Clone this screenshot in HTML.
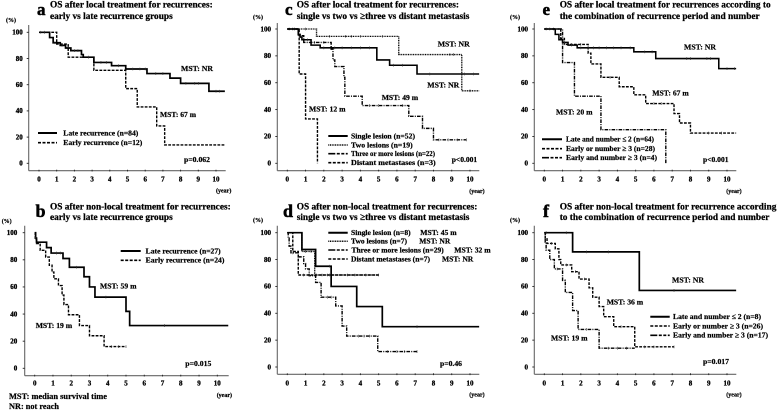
<!DOCTYPE html>
<html lang="en">
<head>
<meta charset="utf-8">
<title>Overall survival after recurrence treatment</title>
<style>
html,body{margin:0;padding:0;background:#fff;width:777px;height:411px;overflow:hidden}
svg{display:block;filter:blur(0.3px)}
text{font-family:"Liberation Serif",serif;font-weight:700;fill:#000;stroke:#000;stroke-width:.22px}
.ttl{font-size:9.6px;stroke-width:.25px}
.let{font-size:17px;stroke-width:.5px}
.leg{font-size:7.6px}
.mst{font-size:7.8px}
.pv{font-size:7.6px}
.unit{font-size:6px}
.tick{font-size:7px;stroke-width:.3px}
.foot{font-size:8px}
</style>
</head>
<body>
<svg id="figure" width="777" height="411" viewBox="0 0 777 411" xmlns="http://www.w3.org/2000/svg">
<g>
<text class="let" x="37" y="15">a</text>
<text class="let" x="35.5" y="217" style="font-size:18px">b</text>
<text class="let" x="285" y="15">c</text>
<text class="let" x="283" y="217" style="font-size:18px">d</text>
<text class="let" x="542.5" y="15">e</text>
<text class="let" x="543" y="217" style="font-size:18px">f</text>
</g>
<g>
<text class="ttl" x="50" y="7.7" textLength="162.7" lengthAdjust="spacingAndGlyphs">OS after local treatment for recurrences:</text>
<text class="ttl" x="50" y="19" textLength="122.7" lengthAdjust="spacingAndGlyphs">early vs late recurrence groups</text>
<text class="ttl" x="50" y="209.3" textLength="180.7" lengthAdjust="spacingAndGlyphs">OS after non-local treatment for recurrences:</text>
<text class="ttl" x="50" y="220" textLength="122.7" lengthAdjust="spacingAndGlyphs">early vs late recurrence groups</text>
<text class="ttl" x="296.7" y="7.7" textLength="162.3" lengthAdjust="spacingAndGlyphs">OS after local treatment for recurrences:</text>
<text class="ttl" x="296.7" y="19" textLength="172.7" lengthAdjust="spacingAndGlyphs">single vs two vs ≥three vs distant metastasis</text>
<text class="ttl" x="296.7" y="209.3" textLength="180.7" lengthAdjust="spacingAndGlyphs">OS after non-local treatment for recurrences:</text>
<text class="ttl" x="296.7" y="220" textLength="172.7" lengthAdjust="spacingAndGlyphs">single vs two vs ≥three vs distant metastasis</text>
<text class="ttl" x="559.7" y="7.7" textLength="211" lengthAdjust="spacingAndGlyphs">OS after local treatment for recurrences according to</text>
<text class="ttl" x="559.7" y="19" textLength="200" lengthAdjust="spacingAndGlyphs">the combination of recurrence period and number</text>
<text class="ttl" x="559.7" y="209.3" textLength="216.7" lengthAdjust="spacingAndGlyphs">OS after non-local treatment for recurrence according</text>
<text class="ttl" x="559.7" y="220" textLength="209.7" lengthAdjust="spacingAndGlyphs">to the combination of recurrence period and number</text>
</g>
<g fill="none" stroke="#000">
<line x1="38" x2="57" y1="133" y2="133" stroke-width="2"/>
<line x1="38" x2="57" y1="142.7" y2="142.7" stroke-width="1.6" stroke-dasharray="3 1.5"/>
<line x1="120.7" x2="140.7" y1="251" y2="251" stroke-width="2"/>
<line x1="120.7" x2="140.7" y1="260.3" y2="260.3" stroke-width="1.6" stroke-dasharray="3 1.5"/>
<line x1="328.3" x2="347.7" y1="136" y2="136" stroke-width="2"/>
<line x1="328.3" x2="347.7" y1="145" y2="145" stroke-width="1.5" stroke-dasharray="1 .7"/>
<line x1="328.3" x2="347.7" y1="153.7" y2="153.7" stroke-width="1.6" stroke-dasharray="7 1.5 3 1.5 3 1.5"/>
<line x1="328.3" x2="347.7" y1="162.7" y2="162.7" stroke-width="1.6" stroke-dasharray="3 1.5"/>
<line x1="328.3" x2="347.7" y1="232.7" y2="232.7" stroke-width="2"/>
<line x1="328.3" x2="347.7" y1="241.3" y2="241.3" stroke-width="1.5" stroke-dasharray="1 .7"/>
<line x1="328.3" x2="347.7" y1="250" y2="250" stroke-width="1.6" stroke-dasharray="7 1.5 3 1.5 3 1.5"/>
<line x1="328.3" x2="347.7" y1="259" y2="259" stroke-width="1.6" stroke-dasharray="3 1.5"/>
<line x1="542" x2="562" y1="139.3" y2="139.3" stroke-width="2"/>
<line x1="542" x2="562" y1="148.7" y2="148.7" stroke-width="1.6" stroke-dasharray="3 1.5"/>
<line x1="542" x2="562" y1="157.7" y2="157.7" stroke-width="1.6" stroke-dasharray="7 1.5 3 1.5 3 1.5"/>
<line x1="650.3" x2="669.7" y1="316.7" y2="316.7" stroke-width="2"/>
<line x1="650.3" x2="669.7" y1="326" y2="326" stroke-width="1.6" stroke-dasharray="3 1.5"/>
<line x1="650.3" x2="669.7" y1="335.3" y2="335.3" stroke-width="1.6" stroke-dasharray="7 1.5 3 1.5 3 1.5"/>
</g>
<g>
<text class="leg" x="63.3" y="135.3" textLength="75" lengthAdjust="spacingAndGlyphs">Late recurrence (n=84)</text>
<text class="leg" x="63.3" y="144.9" textLength="79" lengthAdjust="spacingAndGlyphs">Early recurrence (n=12)</text>
<text class="leg" x="145.7" y="253.3" textLength="75" lengthAdjust="spacingAndGlyphs">Late recurrence (n=27)</text>
<text class="leg" x="145.7" y="262.6" textLength="78.7" lengthAdjust="spacingAndGlyphs">Early recurrence (n=24)</text>
<text class="leg" x="351" y="138.3" textLength="64" lengthAdjust="spacingAndGlyphs">Single lesion (n=52)</text>
<text class="leg" x="351" y="147.3" textLength="61.7" lengthAdjust="spacingAndGlyphs">Two lesions (n=19)</text>
<text class="leg" x="351" y="156" textLength="84" lengthAdjust="spacingAndGlyphs">Three or more lesions (n=22)</text>
<text class="leg" x="351" y="165" textLength="84.7" lengthAdjust="spacingAndGlyphs">Distant metastases (n=3)</text>
<text class="leg" x="351" y="235" textLength="59.7" lengthAdjust="spacingAndGlyphs">Single lesion (n=8)</text>
<text class="leg" x="420.3" y="235" textLength="36.3" lengthAdjust="spacingAndGlyphs">MST: 45 m</text>
<text class="leg" x="351" y="243.6" textLength="56" lengthAdjust="spacingAndGlyphs">Two lesions (n=7)</text>
<text class="leg" x="419.3" y="243.6" textLength="31" lengthAdjust="spacingAndGlyphs">MST: NR</text>
<text class="leg" x="351.5" y="252.3" textLength="92.2" lengthAdjust="spacingAndGlyphs">Three or more lesions (n=29)</text>
<text class="leg" x="454.3" y="252.3" textLength="36.3" lengthAdjust="spacingAndGlyphs">MST: 32 m</text>
<text class="leg" x="351" y="261.3" textLength="79" lengthAdjust="spacingAndGlyphs">Distant metastases (n=7)</text>
<text class="leg" x="442" y="261.3" textLength="31.3" lengthAdjust="spacingAndGlyphs">MST: NR</text>
<text class="leg" x="566" y="141.6" textLength="88" lengthAdjust="spacingAndGlyphs">Late and number ≤ 2 (n=64)</text>
<text class="leg" x="566" y="151" textLength="89" lengthAdjust="spacingAndGlyphs">Early or number ≥ 3 (n=28)</text>
<text class="leg" x="566" y="160" textLength="91" lengthAdjust="spacingAndGlyphs">Early and number ≥ 3 (n=4)</text>
<text class="leg" x="673" y="319" textLength="88" lengthAdjust="spacingAndGlyphs">Late and number ≤ 2 (n=8)</text>
<text class="leg" x="673" y="328.3" textLength="90" lengthAdjust="spacingAndGlyphs">Early or number ≥ 3 (n=26)</text>
<text class="leg" x="673" y="337.6" textLength="95" lengthAdjust="spacingAndGlyphs">Early and number ≥ 3 (n=17)</text>
</g>
<g>
<text class="mst" x="181" y="71" textLength="32" lengthAdjust="spacingAndGlyphs">MST: NR</text>
<text class="mst" x="160" y="117" textLength="36" lengthAdjust="spacingAndGlyphs">MST: 67 m</text>
<text class="mst" x="100" y="288.7" textLength="36.5" lengthAdjust="spacingAndGlyphs">MST: 59 m</text>
<text class="mst" x="35.7" y="328" textLength="36.5" lengthAdjust="spacingAndGlyphs">MST: 19 m</text>
<text class="mst" x="437.7" y="46.3" textLength="32" lengthAdjust="spacingAndGlyphs">MST: NR</text>
<text class="mst" x="427.3" y="87.3" textLength="32" lengthAdjust="spacingAndGlyphs">MST: NR</text>
<text class="mst" x="381.7" y="100" textLength="36.5" lengthAdjust="spacingAndGlyphs">MST: 49 m</text>
<text class="mst" x="309" y="111.3" textLength="36.5" lengthAdjust="spacingAndGlyphs">MST: 12 m</text>
<text class="mst" x="684" y="49.7" textLength="32" lengthAdjust="spacingAndGlyphs">MST: NR</text>
<text class="mst" x="652.3" y="95.7" textLength="36.5" lengthAdjust="spacingAndGlyphs">MST: 67 m</text>
<text class="mst" x="556" y="114.7" textLength="36.5" lengthAdjust="spacingAndGlyphs">MST: 20 m</text>
<text class="mst" x="672" y="282.3" textLength="32" lengthAdjust="spacingAndGlyphs">MST: NR</text>
<text class="mst" x="606.7" y="304.3" textLength="36.5" lengthAdjust="spacingAndGlyphs">MST: 36 m</text>
<text class="mst" x="551" y="340.7" textLength="36.5" lengthAdjust="spacingAndGlyphs">MST: 19 m</text>
</g>
<g>
<text class="pv" x="184" y="162" textLength="26" lengthAdjust="spacingAndGlyphs">p=0.062</text>
<text class="pv" x="185.3" y="366" textLength="26" lengthAdjust="spacingAndGlyphs">p=0.015</text>
<text class="pv" x="451.7" y="162" textLength="25.5" lengthAdjust="spacingAndGlyphs">p&lt;0.001</text>
<text class="pv" x="440" y="366" textLength="22" lengthAdjust="spacingAndGlyphs">p=0.46</text>
<text class="pv" x="703" y="162" textLength="25.5" lengthAdjust="spacingAndGlyphs">p&lt;0.001</text>
<text class="pv" x="703" y="364" textLength="26" lengthAdjust="spacingAndGlyphs">p=0.017</text>
</g>
<g>
<text class="foot" x="9" y="399" textLength="98" lengthAdjust="spacingAndGlyphs">MST: median survival time</text>
<text class="foot" x="9" y="409" textLength="50" lengthAdjust="spacingAndGlyphs">NR: not reach</text>
</g>
<g id="charts"></g>
</svg>
<script>
const xTickLabels = [0,1,2,3,4,5,6,7,8,9,10];
const yTickLabels = [0,20,40,60,80,100];

const aLateT = [0,0.6,0.8,1.2,1.5,1.8,2.4,2.5,3.1,4.1,4.9,6.1,7.4,8,9.6,10.5];
const aLateS = [100,96,92,90,88,86,83,81,77,74.5,72,68.5,65,61,55,55];
const aLateC = [0.1,0.3,0.9,1.3,2,2.2,2.8,3.5,3.8,4.5,5.3,5.7,6,6.6,7,8.3,8.8,9,10,10.2];
const aEarlyT = [0,1,1.65,3.1,4.9,5.55,6.65,7.1,10.5];
const aEarlyS = [100,91,81,71,57,43,28.5,14,14];

const bLateT = [0,0.05,0.1,0.65,0.9,1.55,1.9,2.7,3,3.3,5,5.2,10.6];
const bLateS = [100,96,93,89,85,81,74.5,67.5,60,52.5,42,31.5,31.5];
const bLateC = [0.05,1.2,1.4,2.3,3.9,7.1];
const bEarlyT = [0,0.03,0.1,0.3,0.6,0.8,0.95,1.05,1.3,1.5,1.6,1.85,2.45,3,3.8,5];
const bEarlyS = [100,96,92,87,82,76,71,66,61,54,47,39.5,31.5,24,16,16];
const bEarlyC = [0.05,4.2,4.6,5];

const cSingleT = [0,0.6,0.7,0.8,1.3,1.8,4.9,5.6,7.1,10.5];
const cSingleS = [100,96,94,92,88,86,77,73,66.5,66.5];
const cSingleC = [1.1,2,2.6,3,3.5,4,4.5,5.8,6.3,7.8,9.7,10.2];
const cTwoT = [0,1.6,6.1,9.55,10.5];
const cTwoS = [100,94.5,81,54,54];
const cTwoC = [0.4,1,2.3,3.2,3.5,4,5.2,8.9,9.1,10];
const cThreeT = [0,0.6,0.9,2.4,2.5,2.6,3.1,3.15,4.1,6.65,7.4,8,9.8];
const cThreeS = [100,95,90,85,77,72,64,50,43,35,26,17.5,17.5];
const cThreeC = [0.1,0.3,1.5,2,4.5,5,6.3,8.3,8.8,9.3,9.8];
const cDistantT = [0,0.65,1,1.65];
const cDistantS = [100,66.5,33,0];

const dSingleT = [0,0.8,1.55,2.4,3.8,5.2,10.5];
const dSingleS = [100,87.5,75,60,45,30,30];
const dSingleC = [2.3,7.1];
const dTwoT = [0,0.8,1.5,5];
const dTwoS = [100,86,68.5,68.5];
const dTwoC = [1,1.3,1.9,2.3,3.3,3.7];
const dThreeT = [0,0.05,0.1,0.2,0.6,0.9,1,1.2,1.55,1.85,2.65,3,3.25,4.95,7.1];
const dThreeS = [100,96,90,85,82,77,73,68,63,52,45.5,30.5,23,11.5,11.5];
const dThreeC = [0.3,2.2,2.4,3.9,4.2,4.5,5.5,6,6.4,7.1];
const dDistantT = [0,0.3,0.6,5];
const dDistantS = [100,86,68.5,68.5];
const dDistantC = [0.9,1.2,1.6,2.2,4.3,5];

const eLateT = [0,0.6,0.8,1,1.3,1.8,4.9,6.1,9.55,10.5];
const eLateS = [100,96,92,90,88,86,83,78,70.5,70.5];
const eLateC = [0.1,0.3,1.1,1.5,2,2.4,2.7,3,3.4,3.8,4.2,4.7,5.5,5.9,7.8,8,8.9,9.1,10,10.4];
const eEitherT = [0,0.9,1.1,2.4,2.55,3.1,4.1,4.9,5.55,7.1,7.4,8,10.5];
const eEitherS = [100,93,88.5,82,74,64,57,51,44.5,37,30,22.5,22.5];
const eEitherC = [0.5,1.5,2,3.6,6,6.4,9,9.7];
const eBothT = [0,1,1.65,3.1,6.65];
const eBothS = [100,75,50,25,0];

const fLateT = [0,1.55,5.2,10.5];
const fLateS = [100,85.7,57,57];
const fLateC = [0.1,1.2,2.3,3.5,7.1];
const fEitherT = [0,0.05,0.15,0.6,0.8,0.9,1.5,1.9,2.45,2.65,3,3.25,3.8,4.95,7.1];
const fEitherS = [100,96,92,88,80,76,71,65.5,59,52,45,37.5,30,15,15];
const fEitherC = [0.4,1.2,1.7,2.2,4.2,5.5,6,7.1];
const fBothT = [0,0.05,0.1,0.3,0.55,1,1.15,1.55,1.85,3,4.95];
const fBothS = [100,93,87,80,73,64.5,55.5,42,28,14,14];
const fBothC = [0.7,2.3,3.5,4,4.5];

const NS = 'http://www.w3.org/2000/svg';
const SOLID = '', DASH = '2.8 1.3', DOT = '1 .7', DASHDOT = '3.6 1.2 1 1.2';

const panels = [
 {id:'a',left:28.7,bottom:170.7,top:25,x0:39,xPer:17.7,xEnd:225.7,y100:32.3,y0:163.3,labelRight:22.7,xLabelY:181.7,unitX:6,unitY:22,yearX:216,yearY:192.7,
  series:[
   {name:'early',t:aEarlyT,s:aEarlyS,c:[],d:DASH,w:1.4},
   {name:'late',t:aLateT,s:aLateS,c:aLateC,d:SOLID,w:1.7}]},
 {id:'b',left:24.7,bottom:375.7,top:225.7,x0:34.7,xPer:18.26,xEnd:228.7,y100:232.7,y0:368.3,labelRight:17.3,xLabelY:385.3,unitX:1.7,unitY:223,yearX:216.7,yearY:397,
  series:[
   {name:'early',t:bEarlyT,s:bEarlyS,c:bEarlyC,d:DASH,w:1.4},
   {name:'late',t:bLateT,s:bLateS,c:bLateC,d:SOLID,w:1.7}]},
 {id:'c',left:277.3,bottom:170.7,top:23,x0:287.3,xPer:18.27,xEnd:479.3,y100:29,y0:163.3,labelRight:271,xLabelY:181.7,unitX:253,unitY:19,yearX:469.3,yearY:193,
  series:[
   {name:'two',t:cTwoT,s:cTwoS,c:cTwoC,d:DOT,w:1.35},
   {name:'three',t:cThreeT,s:cThreeS,c:cThreeC,d:DASHDOT,w:1.4},
   {name:'distant',t:cDistantT,s:cDistantS,c:[],d:DASH,w:1.4},
   {name:'single',t:cSingleT,s:cSingleS,c:cSingleC,d:SOLID,w:1.6}]},
 {id:'d',left:277.3,bottom:374.3,top:225.7,x0:287.3,xPer:18.27,xEnd:479.3,y100:232.7,y0:367,labelRight:271,xLabelY:385.3,unitX:253,unitY:222,yearX:469.3,yearY:396.7,
  series:[
   {name:'two',t:dTwoT,s:dTwoS,c:dTwoC,d:DOT,w:1.35},
   {name:'three',t:dThreeT,s:dThreeS,c:dThreeC,d:DASHDOT,w:1.4},
   {name:'distant',t:dDistantT,s:dDistantS,c:dDistantC,d:DASH,w:1.4},
   {name:'single',t:dSingleT,s:dSingleS,c:dSingleC,d:SOLID,w:1.7}]},
 {id:'e',left:534.3,bottom:170.7,top:23,x0:544.3,xPer:18.27,xEnd:736.3,y100:29,y0:163.3,labelRight:528,xLabelY:181.7,unitX:510,unitY:19,yearX:726.3,yearY:193,
  series:[
   {name:'either',t:eEitherT,s:eEitherS,c:eEitherC,d:DASH,w:1.4},
   {name:'both',t:eBothT,s:eBothS,c:[],d:DASHDOT,w:1.4},
   {name:'late',t:eLateT,s:eLateS,c:eLateC,d:SOLID,w:1.55}]},
 {id:'f',left:534.3,bottom:374.3,top:225.7,x0:544.3,xPer:18.27,xEnd:736.3,y100:232.7,y0:367,labelRight:528,xLabelY:385.3,unitX:510,unitY:222,yearX:726.3,yearY:396.7,
  series:[
   {name:'either',t:fEitherT,s:fEitherS,c:fEitherC,d:DASH,w:1.4},
   {name:'both',t:fBothT,s:fBothS,c:fBothC,d:DASHDOT,w:1.4},
   {name:'late',t:fLateT,s:fLateS,c:fLateC,d:SOLID,w:1.7}]}
];

function svgEl(tag, parent) {
  const el = document.createElementNS(NS, tag);
  parent.appendChild(el);
  return el;
}
function valueAt(t, times, values) {
  let v = values[0];
  for (let i = 0; i < times.length; i++) { if (times[i] <= t) v = values[i]; }
  return v;
}
function drawLine(parent, x1, y1, x2, y2, color, width) {
  const ln = svgEl('line', parent);
  ln.setAttribute('x1', x1);
  ln.setAttribute('y1', y1);
  ln.setAttribute('x2', x2);
  ln.setAttribute('y2', y2);
  ln.setAttribute('stroke', color);
  ln.setAttribute('stroke-width', width);
  return ln;
}
function drawLabel(parent, cls, x, y, anchor, str) {
  const tx = svgEl('text', parent);
  tx.setAttribute('class', cls);
  tx.setAttribute('x', x);
  tx.setAttribute('y', y);
  tx.setAttribute('text-anchor', anchor);
  tx.textContent = str;
  return tx;
}

const root = document.getElementById('charts');
panels.forEach(function (p) {
  const xScale = function (t) { return p.x0 + t * p.xPer; };
  const yScale = function (v) { return p.y0 + (p.y100 - p.y0) * v / 100; };

  const g = svgEl('g', root);
  
  

  const yAxis = drawLine(g, p.left, p.top, p.left, p.bottom, '#666', 1.1);
  
  
  const xAxis = drawLine(g, p.left, p.bottom, p.xEnd, p.bottom, '#666', 1.1);
  
  

  xTickLabels.forEach(function (v) {
    const mark = drawLine(g, xScale(v), p.bottom - 1, xScale(v), p.bottom + 0.8, '#222', 0.9);
    
    
    const lab = drawLabel(g, 'tick', xScale(v), p.xLabelY, 'middle', String(v));
    
    
  });
  yTickLabels.forEach(function (v) {
    const mark = drawLine(g, p.left - 2, yScale(v), p.left, yScale(v), '#222', 0.9);
    
    
    const lab = drawLabel(g, 'tick', p.labelRight, yScale(v) + 2.3, 'end', String(v));
    
    
  });

  const unit = drawLabel(g, 'unit', p.unitX, p.unitY, 'start', '(%)');
  
  
  const year = drawLabel(g, 'unit', p.yearX, p.yearY, 'start', '(year)');
  
  

  p.series.forEach(function (s) {
    let d = 'M' + xScale(s.t[0]) + ' ' + yScale(s.s[0]);
    for (let i = 1; i < s.t.length; i++) {
      d += 'H' + xScale(s.t[i]) + 'V' + yScale(s.s[i]);
    }
    const path = svgEl('path', g);
    path.setAttribute('d', d);
    path.setAttribute('fill', 'none');
    path.setAttribute('stroke', '#000');
    path.setAttribute('stroke-width', s.w);
    if (s.d) path.setAttribute('stroke-dasharray', s.d);
    
    

    s.c.forEach(function (t) {
      const v = valueAt(t, s.t, s.s);
      const cm = drawLine(g, xScale(t), yScale(v) - 1.4, xScale(t), yScale(v) + 1.4, '#333', 0.6);
      
      
    });
  });
});
</script>
</body>
</html>
